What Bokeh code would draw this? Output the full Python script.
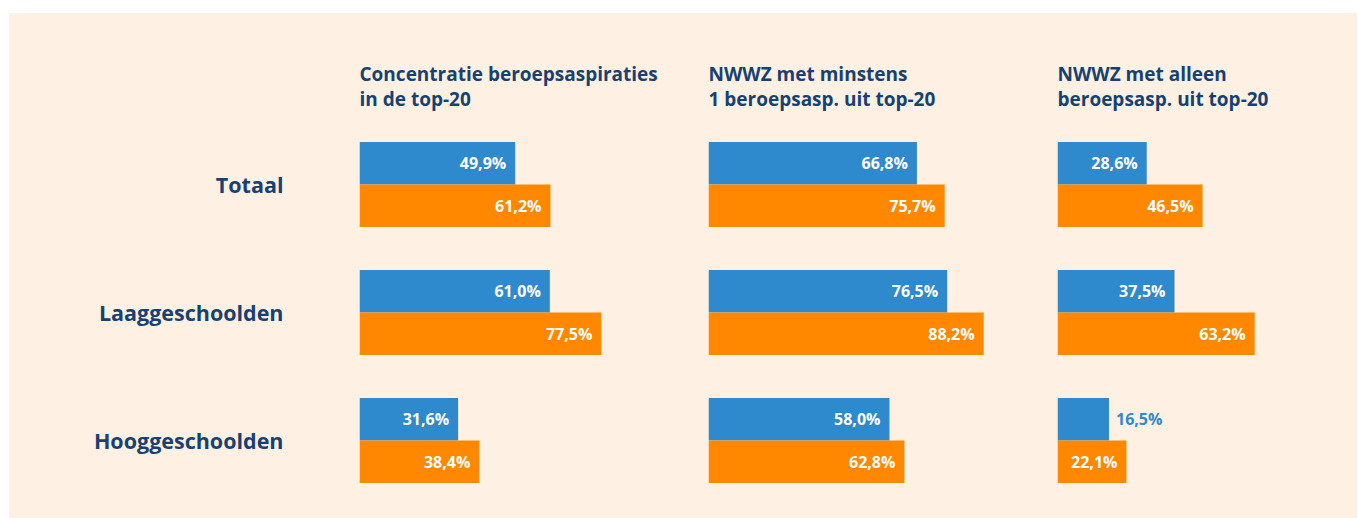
from bokeh.plotting import figure
from bokeh.layouts import row, column, Spacer
from bokeh.models import Range1d, ColumnDataSource, FixedTicker
from bokeh.core.properties import value
from bokeh.embed import file_html
from bokeh.resources import INLINE

# ---------------- data ----------------
groups = ["Totaal", "Laaggeschoolden", "Hooggeschoolden"]
titles = [
    ["Concentratie beroepsaspiraties", "in de top-20"],
    ["NWWZ met minstens", "1 beroepsasp. uit top-20"],
    ["NWWZ met alleen", "beroepsasp. uit top-20"],
]
blue_concentratie = [49.9, 61.0, 31.6]
orange_concentratie = [61.2, 77.5, 38.4]
blue_minstens = [66.8, 76.5, 58.0]
orange_minstens = [75.7, 88.2, 62.8]
blue_alleen = [28.6, 37.5, 16.5]
orange_alleen = [46.5, 63.2, 22.1]

panels = [
    (blue_concentratie, orange_concentratie),
    (blue_minstens, orange_minstens),
    (blue_alleen, orange_alleen),
]

# ---------------- style ----------------
BG = "#fef1e3"
BLUE = "#2f89cd"
ORANGE = "#ff8800"
DARK = "#154273"
FONT = "Open Sans"
PX_PER_PCT = 3.12
ROW_PX = 128.0
FRAME_H = 505
Y_TOP = -1.336
Y_BOTTOM = Y_TOP + FRAME_H / ROW_PX
BAR_H = 42.5 / ROW_PX
widths = [349, 349, 300]
left_border = 350


def fmt(v):
    return ("%.1f" % v).replace(".", ",") + "%"


def make_panel(i, blue, orange, title_lines):
    w = widths[i]
    extra = left_border if i == 0 else 0
    p = figure(
        width=w + extra, height=FRAME_H,
        x_range=Range1d(0, w / PX_PER_PCT),
        y_range=Range1d(Y_BOTTOM, Y_TOP),
        output_backend="svg", toolbar_location=None,
        min_border_left=extra, min_border_right=0,
        min_border_top=0, min_border_bottom=0,
    )
    p.background_fill_color = None
    p.border_fill_color = None
    p.styles = {"background-color": BG}
    p.outline_line_color = None
    p.grid.visible = False
    p.xaxis.visible = False
    if i == 0:
        ax = p.yaxis[0]
        ax.ticker = FixedTicker(ticks=[0, 1, 2])
        ax.major_label_overrides = {k: g for k, g in enumerate(groups)}
        ax.axis_line_color = None
        ax.major_tick_line_color = None
        ax.minor_tick_line_color = None
        ax.major_tick_out = 0
        ax.major_tick_in = 0
        ax.major_label_standoff = 76
        ax.major_label_text_font = FONT
        ax.major_label_text_font_style = "bold"
        ax.major_label_text_font_size = "21.5px"
        ax.major_label_text_color = DARK
    else:
        p.yaxis.visible = False

    idx = list(range(len(groups)))
    yb = [k - BAR_H / 2 for k in idx]
    yo = [k + BAR_H / 2 for k in idx]
    p.hbar(y=yb, left=0, right=blue, height=BAR_H, fill_color=BLUE, line_color=None)
    p.hbar(y=yo, left=0, right=orange, height=BAR_H, fill_color=ORANGE, line_color=None)

    xs, ys, txt, offs, aligns, cols = [], [], [], [], [], []
    for vals, ypos, col in ((blue, yb, BLUE), (orange, yo, ORANGE)):
        for v, y in zip(vals, ypos):
            inside = v >= 20
            xs.append(v)
            ys.append(y)
            txt.append(fmt(v))
            offs.append(-9 if inside else 7)
            aligns.append("right" if inside else "left")
            cols.append("white" if inside else col)
    src = ColumnDataSource(dict(x=xs, y=ys, t=txt, o=offs, a=aligns, c=cols))
    p.text(x="x", y="y", text="t", x_offset="o", text_align="a", text_color="c",
           text_baseline="middle", text_font=value(FONT), text_font_style="bold",
           text_font_size="16px", source=src)

    line_y = [Y_TOP + (73 - 13) / ROW_PX, Y_TOP + (98 - 13) / ROW_PX]
    p.text(x=[0, 0], y=line_y, text=title_lines, text_align="left",
           text_baseline="alphabetic", text_font=value(FONT), text_font_style="bold",
           text_font_size="19px", text_color=DARK)
    return p


figs = [make_panel(i, b, o, titles[i]) for i, (b, o) in enumerate(panels)]
layout = column(Spacer(width=1358, height=13),
                row(Spacer(width=9, height=FRAME_H), *figs))

open("out.html", "w").write(file_html(layout, INLINE))
